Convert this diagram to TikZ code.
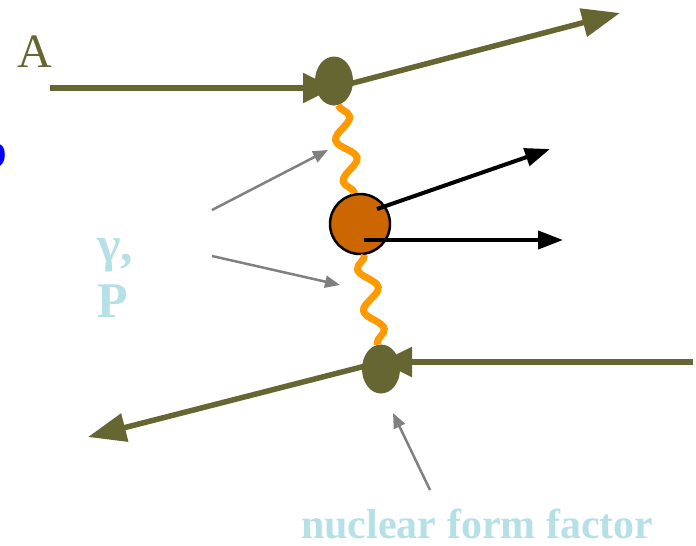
\documentclass[tikz,border=0pt]{standalone}
\usepackage{fontspec}
\setmainfont{Liberation Serif}
\usetikzlibrary{arrows.meta,shapes.geometric,decorations.pathmorphing}
\definecolor{olivebeam}{HTML}{666633}
\definecolor{gluonorange}{HTML}{FF9900}
\definecolor{blobfill}{HTML}{CC6600}
\definecolor{labelblue}{RGB}{180,224,230}

\begin{document}
\begin{tikzpicture}[x=1pt, y=-1pt,
  vtx/.style={ellipse, fill=olivebeam, minimum width=38pt, minimum height=49pt, inner sep=0pt},
  blb/.style={circle, draw=black, line width=2.5pt, fill=blobfill, minimum size=60pt, inner sep=0pt},
  beam/.style={draw=olivebeam, line width=5.5pt, -{Triangle[length=38pt, width=28pt]}},
  beamin/.style={beam, -{Triangle[length=31pt, width=29pt]}},
  xch/.style={draw=gluonorange, line width=7pt, decorate, decoration={snake, segment length=42pt, amplitude=9pt}},
  prod/.style={draw=black, line width=4pt, -{Triangle[length=25pt, width=18pt]}},
  hint/.style={draw=gray, line width=2.5pt, -{Triangle[length=15pt, width=12pt]}},
  lab/.style={text=labelblue, font=\bfseries\fontsize{50}{56}\selectfont, inner sep=0pt, anchor=base west}]
  \useasboundingbox (0,0) rectangle (696,546);
  % vertices and blob
  \node[vtx] (vt) at (334,81) {};
  \node[vtx] (vb) at (381,369) {};
  \node[blb] (blob) at (360,224) {};
  % beams
  \coordinate (ain) at (50,88); \coordinate (aout) at (620,13);
  \coordinate (bin) at (693,362); \coordinate (bout) at (88,437);
  \draw[beamin] (ain) -- ([yshift=-7pt]vt.center);
  \draw[beam] ([yshift=-7pt]vt.center) -- (aout);
  \draw[beamin] (bin) -- ([yshift=7pt]vb.center);
  \draw[beam] ([yshift=7pt]vb.center) -- (bout);
  % exchanges
  \draw[xch] (vt) -- (blob);
  \draw[xch, decoration={mirror}] (blob) -- (vb);
  % produced particles
  \coordinate (p1) at (550,149); \coordinate (p2) at (563,240);
  \draw[prod] ([shift={(17,-15)}]blob.center) -- (p1);
  \draw[prod] ([shift={(4,16)}]blob.center) -- (p2);
  % labels
  \node[text=olivebeam, font=\fontsize{48}{56}\selectfont, inner sep=0pt, anchor=base west] (beamA) at (17,67) {A};
  \node[text=blue, font=\bfseries\fontsize{50}{56}\selectfont, inner sep=0pt, anchor=base east] (nucl) at (8,167) {b};
  \node[lab] (gam) at (97,261) {γ,};
  \node[lab] (pom) at (97,317) {P};
  \node[lab, font=\bfseries\fontsize{42}{50}\selectfont] (nff) at (301,538) {nuclear form factor};
  % pointers
  \coordinate (g1s) at (212,210); \coordinate (g1e) at (328,150);
  \coordinate (g2s) at (212,256); \coordinate (g2e) at (340,285);
  \coordinate (g3s) at (430,490); \coordinate (g3e) at (393,413);
  \draw[hint] (g1s) -- (g1e); \draw[hint] (g2s) -- (g2e); \draw[hint] (g3s) -- (g3e);
\end{tikzpicture}
\end{document}
